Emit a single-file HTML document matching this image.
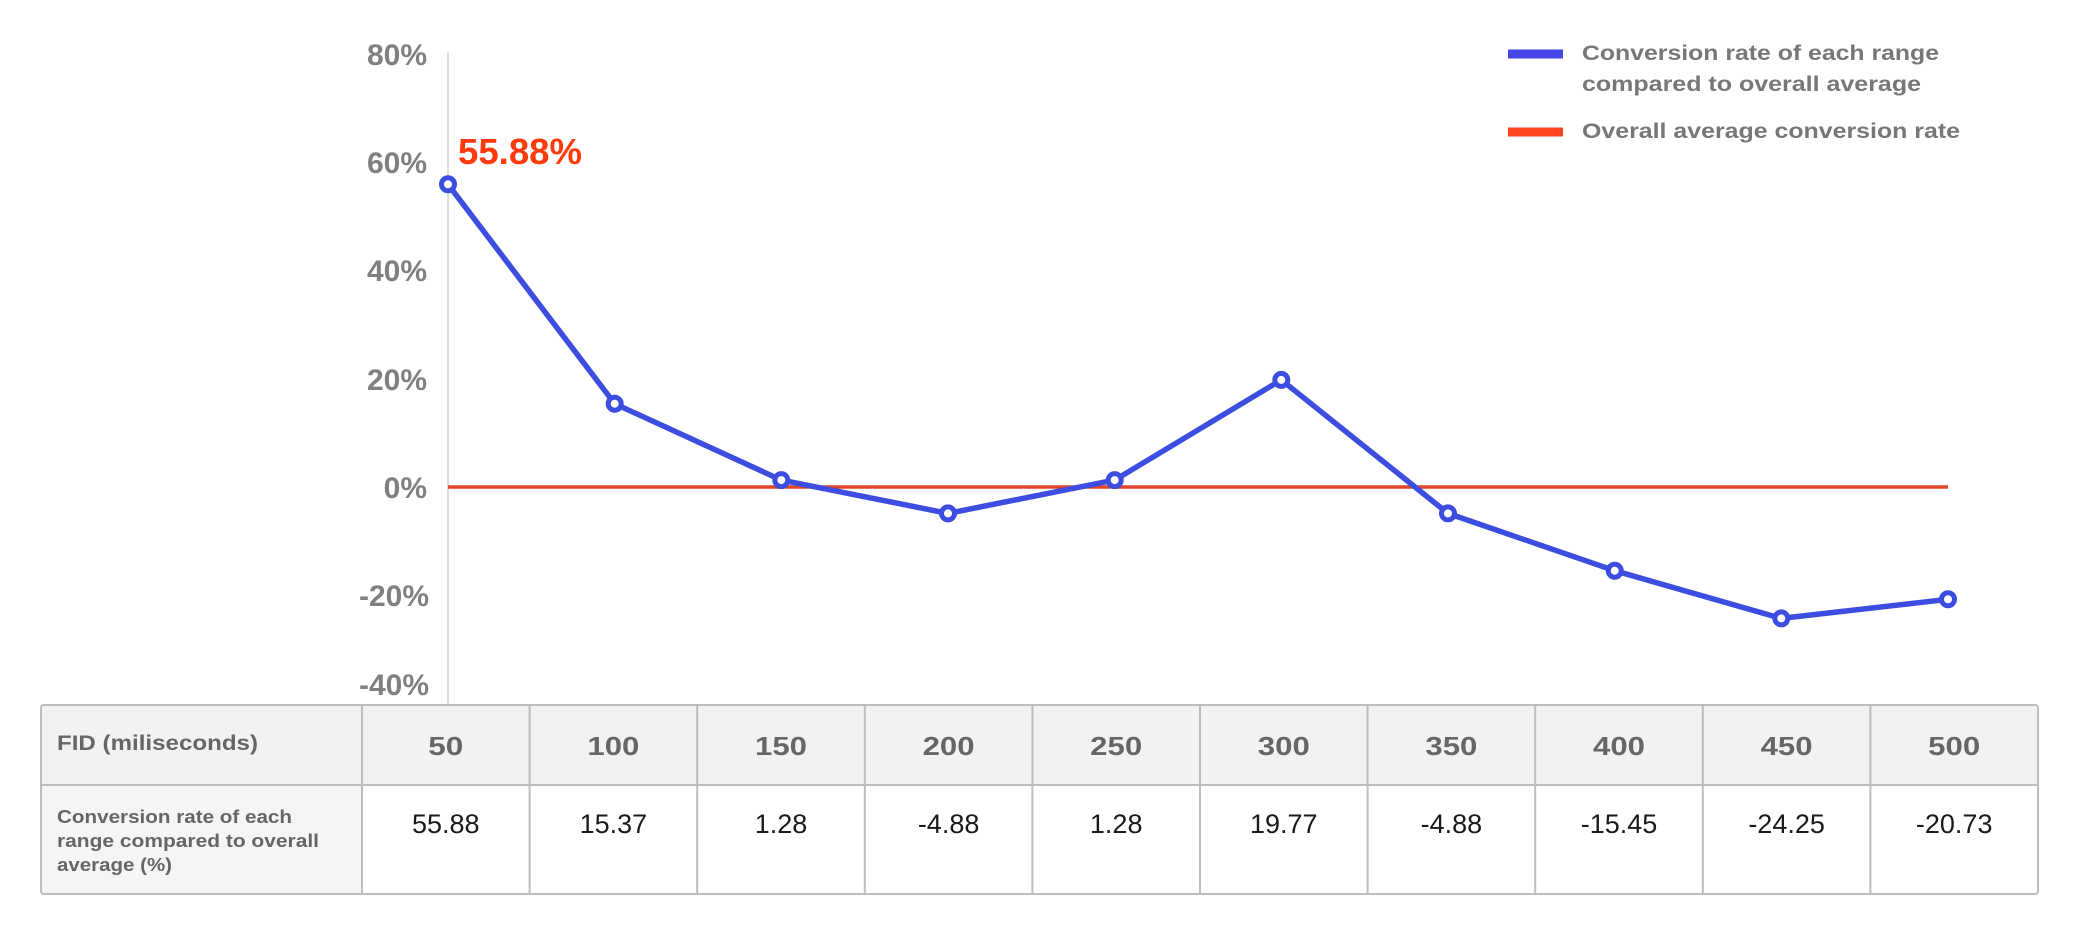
<!DOCTYPE html>
<html>
<head>
<meta charset="utf-8">
<style>
  html, body { margin: 0; padding: 0; background: #ffffff; }
  svg { display: block; }
  text { font-family: "Liberation Sans", "DejaVu Sans", sans-serif; }
</style>
</head>
<body>
<svg width="2080" height="940" viewBox="0 0 2080 940" xmlns="http://www.w3.org/2000/svg">
  <rect x="0" y="0" width="2080" height="940" fill="#ffffff"/>

  <!-- Y axis line -->
  <line x1="448" y1="52" x2="448" y2="705" stroke="#dddddd" stroke-width="2"/>

  <!-- Y axis labels -->
  <g font-weight="bold" font-size="30" fill="#808080" text-anchor="end">
    <text x="427" y="65">80%</text>
    <text x="427" y="173">60%</text>
    <text x="427" y="281">40%</text>
    <text x="427" y="390">20%</text>
    <text x="427" y="498">0%</text>
    <text x="429" y="606">-20%</text>
    <text x="429" y="695">-40%</text>
  </g>

  <!-- Overall average line -->
  <line x1="448" y1="487" x2="1948" y2="487" stroke="#e0462a" stroke-width="3.5"/>

  <!-- Series line -->
  <polyline fill="none" stroke="#3d4de0" stroke-width="5.5" stroke-linejoin="round"
    points="448,184.3 614.7,403.7 781.3,480.1 948,513.4 1114.7,480.1 1281.3,379.9 1448,513.4 1614.7,570.7 1781.3,618.4 1948,599.3"/>
  <g fill="#ffffff" stroke="#3d4de0" stroke-width="5">
    <circle cx="448" cy="184.3" r="6.5"/>
    <circle cx="614.7" cy="403.7" r="6.5"/>
    <circle cx="781.3" cy="480.1" r="6.5"/>
    <circle cx="948" cy="513.4" r="6.5"/>
    <circle cx="1114.7" cy="480.1" r="6.5"/>
    <circle cx="1281.3" cy="379.9" r="6.5"/>
    <circle cx="1448" cy="513.4" r="6.5"/>
    <circle cx="1614.7" cy="570.7" r="6.5"/>
    <circle cx="1781.3" cy="618.4" r="6.5"/>
    <circle cx="1948" cy="599.3" r="6.5"/>
  </g>

  <!-- Data label -->
  <text x="458" y="164" font-size="36" font-weight="bold" fill="#ff3a0a" textLength="124" lengthAdjust="spacingAndGlyphs">55.88%</text>

  <!-- Legend -->
  <rect x="1508" y="49.5" width="55" height="9" fill="#4646e6"/>
  <rect x="1508" y="127.5" width="55" height="9" fill="#ff4422"/>
  <g font-size="21" font-weight="bold" fill="#777777">
    <text x="1582" y="60" textLength="357" lengthAdjust="spacingAndGlyphs">Conversion rate of each range</text>
    <text x="1582" y="91" textLength="339" lengthAdjust="spacingAndGlyphs">compared to overall average</text>
    <text x="1582" y="138" textLength="378" lengthAdjust="spacingAndGlyphs">Overall average conversion rate</text>
  </g>

  <!-- Table -->
  <path d="M41,785 L41,708 Q41,705 44,705 L2035,705 Q2038,705 2038,708 L2038,785 Z" fill="#f2f2f2"/>
  <rect x="41" y="785" width="321" height="109" fill="#f5f5f5"/>
  <rect x="41" y="705" width="1997" height="189" rx="3" ry="3" fill="none" stroke="#bdbdbd" stroke-width="2"/>
  <line x1="41" y1="785" x2="2038" y2="785" stroke="#bdbdbd" stroke-width="2"/>
  <g stroke="#bdbdbd" stroke-width="2">
    <line x1="362" y1="705" x2="362" y2="894"/>
    <line x1="529.6" y1="705" x2="529.6" y2="894"/>
    <line x1="697.2" y1="705" x2="697.2" y2="894"/>
    <line x1="864.8" y1="705" x2="864.8" y2="894"/>
    <line x1="1032.4" y1="705" x2="1032.4" y2="894"/>
    <line x1="1200" y1="705" x2="1200" y2="894"/>
    <line x1="1367.6" y1="705" x2="1367.6" y2="894"/>
    <line x1="1535.2" y1="705" x2="1535.2" y2="894"/>
    <line x1="1702.8" y1="705" x2="1702.8" y2="894"/>
    <line x1="1870.4" y1="705" x2="1870.4" y2="894"/>
  </g>

  <!-- header row text -->
  <text x="57" y="750" font-size="21" font-weight="bold" fill="#666666" textLength="201" lengthAdjust="spacingAndGlyphs">FID (miliseconds)</text>
  <g font-size="26" font-weight="bold" fill="#666666" text-anchor="middle">
    <text x="445.8" y="755" textLength="35" lengthAdjust="spacingAndGlyphs">50</text>
    <text x="613.4" y="755" textLength="52" lengthAdjust="spacingAndGlyphs">100</text>
    <text x="781" y="755" textLength="52" lengthAdjust="spacingAndGlyphs">150</text>
    <text x="948.6" y="755" textLength="52" lengthAdjust="spacingAndGlyphs">200</text>
    <text x="1116.2" y="755" textLength="52" lengthAdjust="spacingAndGlyphs">250</text>
    <text x="1283.8" y="755" textLength="52" lengthAdjust="spacingAndGlyphs">300</text>
    <text x="1451.4" y="755" textLength="52" lengthAdjust="spacingAndGlyphs">350</text>
    <text x="1619" y="755" textLength="52" lengthAdjust="spacingAndGlyphs">400</text>
    <text x="1786.6" y="755" textLength="52" lengthAdjust="spacingAndGlyphs">450</text>
    <text x="1954.2" y="755" textLength="52" lengthAdjust="spacingAndGlyphs">500</text>
  </g>

  <!-- data row text -->
  <g font-size="18" font-weight="bold" fill="#666666">
    <text x="57" y="823" textLength="235" lengthAdjust="spacingAndGlyphs">Conversion rate of each</text>
    <text x="57" y="847" textLength="262" lengthAdjust="spacingAndGlyphs">range compared to overall</text>
    <text x="57" y="871" textLength="115" lengthAdjust="spacingAndGlyphs">average (%)</text>
  </g>
  <g font-size="27" fill="#1a1a1a" text-anchor="middle">
    <text x="445.8" y="833">55.88</text>
    <text x="613.4" y="833">15.37</text>
    <text x="781" y="833">1.28</text>
    <text x="948.6" y="833">-4.88</text>
    <text x="1116.2" y="833">1.28</text>
    <text x="1283.8" y="833">19.77</text>
    <text x="1451.4" y="833">-4.88</text>
    <text x="1619" y="833">-15.45</text>
    <text x="1786.6" y="833">-24.25</text>
    <text x="1954.2" y="833">-20.73</text>
  </g>
</svg>
</body>
</html>
